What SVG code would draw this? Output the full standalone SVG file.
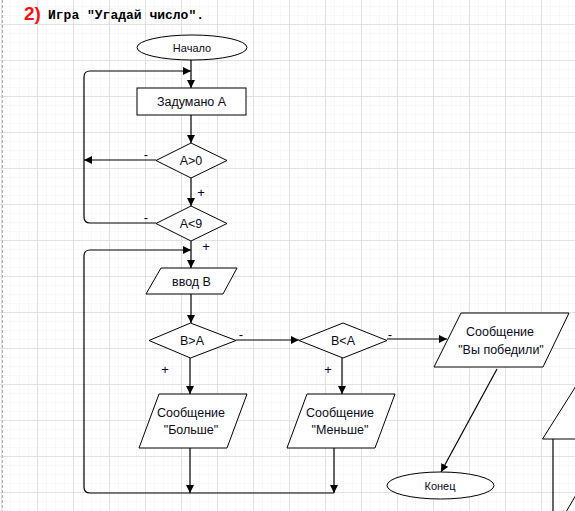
<svg xmlns="http://www.w3.org/2000/svg" width="575" height="511" viewBox="0 0 575 511">
<defs>
<pattern id="minor" x="1" y="24" width="9" height="9" patternUnits="userSpaceOnUse">
<path d="M0,0 H9 M0,0 V9" stroke="#f2f2f2" stroke-width="1" fill="none"/>
</pattern>
<pattern id="major" x="1" y="24" width="36" height="36" patternUnits="userSpaceOnUse">
<path d="M0,0.5 H36 M0.5,0 V36" stroke="#e2e2e2" stroke-width="1" fill="none"/>
</pattern>
<marker id="arr" viewBox="0 0 10 10" refX="10" refY="5" markerWidth="8" markerHeight="8" markerUnits="userSpaceOnUse" orient="auto">
<path d="M0,0 L10,5 L0,10 Z" fill="#000"/>
</marker>
<style>
.shape{fill:#fff;stroke:#000;stroke-width:1}
.t{font-family:"Liberation Sans",Arial,sans-serif;font-size:12.5px;fill:#0a0a20;text-anchor:middle}
.ts{font-family:"Liberation Sans",Arial,sans-serif;font-size:11px;fill:#0a0a20;text-anchor:middle}
.lbl{font-family:"Liberation Sans",Arial,sans-serif;font-size:13px;fill:#000040;text-anchor:middle}
.c{fill:none;stroke:#000;stroke-width:1.2}
.ca{fill:none;stroke:#000;stroke-width:1.2;marker-end:url(#arr)}
</style>
</defs>
<rect width="575" height="511" fill="#fff"/>
<rect width="575" height="511" fill="url(#minor)"/>
<rect width="575" height="511" fill="url(#major)"/>
<line x1="2.5" y1="0" x2="2.5" y2="511" stroke="#b0b0b0" stroke-dasharray="3,2"/>
<text x="24" y="20" font-family="'Liberation Sans',Arial,sans-serif" font-weight="bold" font-size="19" fill="#ff1010">2)</text>
<text x="48" y="19" font-family="'Liberation Mono','Courier New',monospace" font-weight="bold" font-size="13" fill="#000">Игра "Угадай число".</text>

<g id="connectors">
<path class="ca" d="M191,60 L191,88"/>
<path class="ca" d="M191,115 L191,143"/>
<path class="ca" d="M191,178 L191,206"/>
<path class="ca" d="M156,160 L84,160"/>
<path class="ca" d="M156,223 L90,223 Q84,223 84,217 L84,77 Q84,71 90,71 L191,71"/>
<path class="ca" d="M191,241 L191,268"/>
<path class="ca" d="M334,493 L90,493 Q84,493 84,487 L84,256 Q84,250 90,250 L191,250"/>
<path class="ca" d="M191,294 L191,323"/>
<path class="ca" d="M236,340 L299,340"/>
<path class="ca" d="M387,339 L447,339"/>
<path class="ca" d="M190,358 L190,394"/>
<path class="ca" d="M342,358 L342,394"/>
<path class="ca" d="M190,448 L190,493"/>
<path class="ca" d="M334,448 L334,493"/>
<path class="ca" d="M497,369 L441,472"/>
<text class="lbl" x="146" y="159">-</text>
<text class="lbl" x="201" y="197">+</text>
<text class="lbl" x="146" y="222">-</text>
<text class="lbl" x="206" y="251">+</text>
<text class="lbl" x="241" y="339">-</text>
<text class="lbl" x="390" y="339">-</text>
<text class="lbl" x="165" y="374">+</text>
<text class="lbl" x="328" y="374">+</text>
</g>

<g id="start">
<ellipse class="shape" cx="192" cy="47.5" rx="55" ry="12.5"/>
<text class="ts" x="192" y="51.5">Начало</text>
</g>
<g id="think">
<rect class="shape" x="137" y="88" width="109" height="27"/>
<text class="t" x="191.5" y="106">Задумано А</text>
</g>
<g id="cond1">
<polygon class="shape" points="191,143 227,160.5 191,178 156,160.5"/>
<text class="t" x="191" y="165">A&gt;0</text>
</g>
<g id="cond2">
<polygon class="shape" points="191,206 227,223.5 191,241 156,223.5"/>
<text class="t" x="191" y="228">A&lt;9</text>
</g>
<g id="input">
<polygon class="shape" points="161,268 237,268 223,294 146,294"/>
<text class="t" x="191.5" y="286">ввод В</text>
</g>
<g id="cond3">
<polygon class="shape" points="190.5,323 236,340.5 190.5,358 149,340.5"/>
<text class="t" x="192" y="345">B&gt;A</text>
</g>
<g id="cond4">
<polygon class="shape" points="343,323 387,340.5 343,358 299,340.5"/>
<text class="t" x="343" y="345">B&lt;A</text>
</g>
<g id="more">
<polygon class="shape" points="159,394 247,394 227,448 139,448"/>
<text class="t" x="191" y="417">Сообщение</text>
<text class="t" x="191" y="434">"Больше"</text>
</g>
<g id="less">
<polygon class="shape" points="307,394 395,394 375,448 287,448"/>
<text class="t" x="340" y="417">Сообщение</text>
<text class="t" x="340" y="434">"Меньше"</text>
</g>
<g id="win">
<polygon class="shape" points="461,313 569,313 543,367 434,367"/>
<text class="t" x="500" y="336">Сообщение</text>
<text class="t" x="501" y="354">"Вы победили"</text>
</g>
<g id="end">
<ellipse class="shape" cx="440.5" cy="485.5" rx="53.5" ry="13.5"/>
<text class="ts" x="440" y="489.5">Конец</text>
</g>
<g id="partial">
<polyline class="shape" fill="none" points="576,386 542.5,439 576,439" style="fill:#fff"/>
<line x1="553" y1="439" x2="553" y2="511" stroke="#000" stroke-width="1.2"/>
<line x1="576" y1="495" x2="566" y2="512" stroke="#000" stroke-width="1"/>
</g>
</svg>
